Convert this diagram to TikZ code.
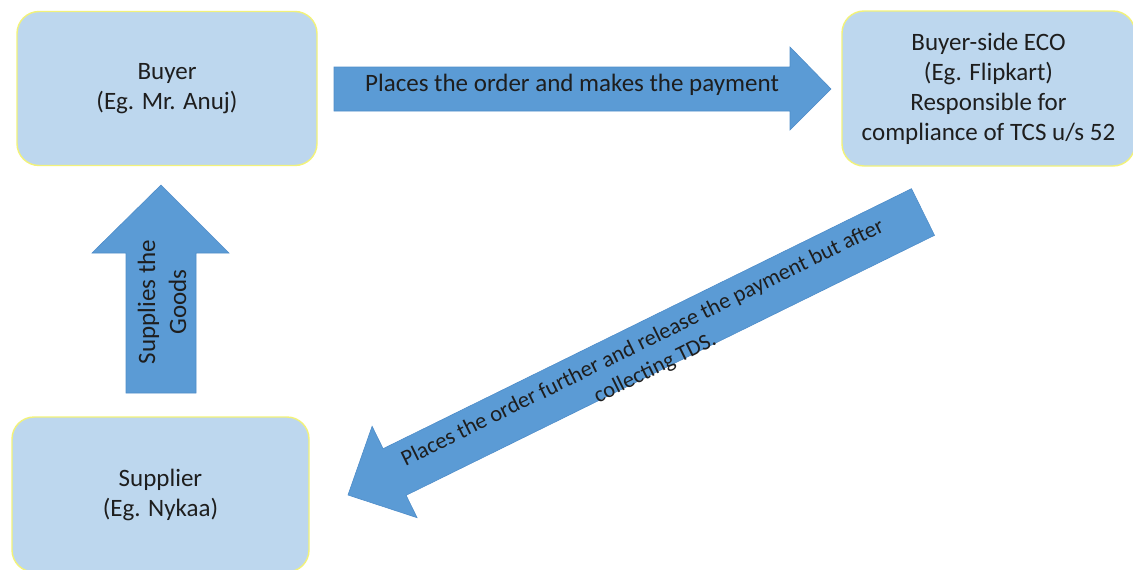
\documentclass[tikz,border=0pt]{standalone}
\usepackage{fontspec}
\setmainfont{Carlito}
\definecolor{boxfill}{HTML}{BDD7EE}
\definecolor{boxedge}{HTML}{F2F27A}
\definecolor{arrowfill}{HTML}{5B9BD5}
\definecolor{arrowedge}{HTML}{4F8DC9}
\definecolor{txt}{HTML}{1E1E1E}
\begin{document}
\begin{tikzpicture}[x=1pt,y=-1pt,
  box/.style={draw=boxedge, line width=1.4pt, fill=boxfill, rounded corners=22pt,
    inner sep=0pt, font=\fontsize{25}{30}\selectfont, text=txt, align=center},
  blockarrow/.style={fill=arrowfill, draw=arrowedge, line width=0.6pt},
  lbl/.style={font=\fontsize{25}{31}\selectfont, text=txt, align=center, inner sep=0pt}]
\useasboundingbox (0,0) rectangle (1133,570);
% boxes
\node[box, minimum width=300pt, minimum height=154pt] (buyer) at (167,88.5) {Buyer\\(Eg. Mr. Anuj)};
\node[box, minimum width=293pt, minimum height=155pt] (eco) at (988.5,88.5)
  {Buyer-side ECO\\(Eg. Flipkart)\\Responsible for\\compliance of TCS u/s 52};
\node[box, minimum width=297pt, minimum height=155pt] (supplier) at (160.5,494.5) {Supplier\\(Eg. Nykaa)};
% right arrow
\draw[blockarrow] (334,67) -- (790,67) -- (790,47) -- (831,89) -- (790,130) -- (790,111) -- (334,111) -- cycle;
\node[lbl] (pay) at (572,85) {Places the order and makes the payment};
% up arrow
\draw[blockarrow] (126,393) -- (126,253) -- (92,253) -- (161,185) -- (229,253) -- (196,253) -- (196,393) -- cycle;
\node[lbl, rotate=90] (goods) at (162,302) {Supplies the\\Goods};
% diagonal arrow
\draw[blockarrow] (911.5,188.7) -- (934.5,235.3) -- (406.1,495.3) -- (417.1,517.7) -- (348,495)
  -- (372.1,426.3) -- (383.1,448.7) -- cycle;
\node[lbl, rotate=26.2, font=\fontsize{22.5}{28}\selectfont] (tds) at (649,356)
  {Places the order further and release the payment but after\\collecting TDS.};
\end{tikzpicture}
\end{document}
